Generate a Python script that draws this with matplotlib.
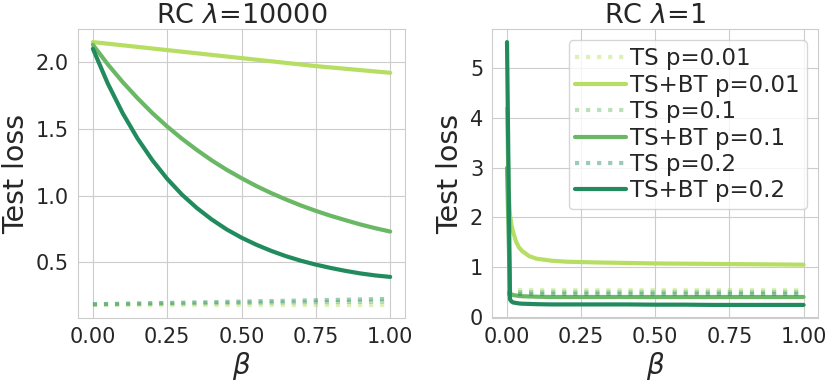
import matplotlib
matplotlib.use("Agg")
import matplotlib.pyplot as plt
import seaborn as sns

sns.set_style("whitegrid")
plt.rcParams['font.family'] = ['DejaVu Sans']

# left panel: RC lambda=10000
beta_left = [0.00, 0.05, 0.10, 0.15, 0.20, 0.25, 0.30, 0.35, 0.40, 0.45, 0.50,
             0.55, 0.60, 0.65, 0.70, 0.75, 0.80, 0.85, 0.90, 0.95, 1.00]
bt_001_left = [2.150, 2.138, 2.126, 2.114, 2.102, 2.090, 2.078, 2.066, 2.054, 2.042, 2.030,
               2.018, 2.006, 1.994, 1.982, 1.970, 1.960, 1.950, 1.940, 1.930, 1.920]
bt_01_left = [2.130, 1.984, 1.851, 1.730, 1.618, 1.517, 1.425, 1.341, 1.263, 1.193, 1.130,
              1.071, 1.018, 0.970, 0.925, 0.885, 0.848, 0.815, 0.783, 0.755, 0.730]
bt_02_left = [2.100, 1.840, 1.618, 1.428, 1.265, 1.125, 1.006, 0.906, 0.820, 0.746, 0.684,
              0.631, 0.585, 0.545, 0.511, 0.482, 0.457, 0.435, 0.416, 0.401, 0.390]
ts_001_left = [0.18, 0.18, 0.18, 0.18, 0.18, 0.18, 0.18, 0.18, 0.18, 0.18, 0.18,
               0.18, 0.18, 0.18, 0.18, 0.18, 0.18, 0.18, 0.18, 0.18, 0.18]
ts_01_left = [0.185, 0.186, 0.187, 0.188, 0.189, 0.19, 0.191, 0.192, 0.193, 0.194, 0.195,
              0.196, 0.197, 0.198, 0.199, 0.2, 0.201, 0.202, 0.203, 0.204, 0.205]
ts_02_left = [0.185, 0.187, 0.189, 0.191, 0.193, 0.195, 0.197, 0.199, 0.201, 0.203, 0.205,
              0.207, 0.209, 0.211, 0.213, 0.215, 0.217, 0.219, 0.221, 0.223, 0.225]

# right panel: RC lambda=1
beta_right = [0.00, 0.005, 0.01, 0.015, 0.02, 0.03, 0.04, 0.05, 0.075, 0.10, 0.15,
              0.20, 0.30, 0.40, 0.50, 0.60, 0.70, 0.80, 0.90, 1.00]
bt_001_right = [4.20, 2.60, 2.05, 1.85, 1.72, 1.52, 1.40, 1.33, 1.22, 1.17, 1.13,
                1.11, 1.095, 1.085, 1.075, 1.07, 1.065, 1.06, 1.055, 1.05]
bt_01_right = [3.00, 1.75, 0.48, 0.45, 0.44, 0.43, 0.42, 0.415, 0.41, 0.405, 0.40,
               0.40, 0.40, 0.40, 0.40, 0.40, 0.40, 0.40, 0.40, 0.40]
bt_02_right = [5.53, 2.94, 0.35, 0.31, 0.29, 0.28, 0.27, 0.265, 0.26, 0.255, 0.25,
               0.25, 0.25, 0.25, 0.245, 0.245, 0.24, 0.24, 0.24, 0.24]
ts_001_right = [0.55] * len(beta_right)
ts_01_right = [0.50] * len(beta_right)
ts_02_right = [0.45] * len(beta_right)

colors = ['#b5de63', '#6ab865', '#228b5e']
labels_p = ['0.01', '0.1', '0.2']

fig = plt.figure(figsize=(8.3, 3.86), dpi=100)
ax1 = fig.add_axes([0.094, 0.176, 0.394, 0.749])
ax2 = fig.add_axes([0.593, 0.176, 0.393, 0.749])

panels = [
    (ax1, beta_left, [ts_001_left, ts_01_left, ts_02_left],
     [bt_001_left, bt_01_left, bt_02_left], r"RC $\lambda$=10000"),
    (ax2, beta_right, [ts_001_right, ts_01_right, ts_02_right],
     [bt_001_right, bt_01_right, bt_02_right], r"RC $\lambda$=1"),
]

for ax, b, ts, bt, title in panels:
    for i in range(3):
        ax.plot(b, ts[i], linestyle=':', lw=3, color=colors[i], alpha=0.45,
                label="TS p=" + labels_p[i])
        ax.plot(b, bt[i], linestyle='-', lw=3, color=colors[i],
                solid_capstyle='round', label="TS+BT p=" + labels_p[i])
    ax.set_title(title, fontsize=19.5, pad=4)
    ax.set_xlabel(r"$\beta$", fontsize=20, labelpad=2)
    ax.set_ylabel("Test loss", fontsize=20.5, labelpad=4)
    ax.set_xticks([0.0, 0.25, 0.5, 0.75, 1.0])
    ax.tick_params(labelsize=15, pad=3)

ax1.set_yticks([0.5, 1.0, 1.5, 2.0])
ax2.set_yticks([0, 1, 2, 3, 4, 5])

ax2.legend(loc='upper right', fontsize=16.5, labelspacing=0.15, handlelength=2.2,
           handletextpad=0.2, borderpad=0.3, framealpha=0.8)

fig.savefig("out.png", dpi=100)
